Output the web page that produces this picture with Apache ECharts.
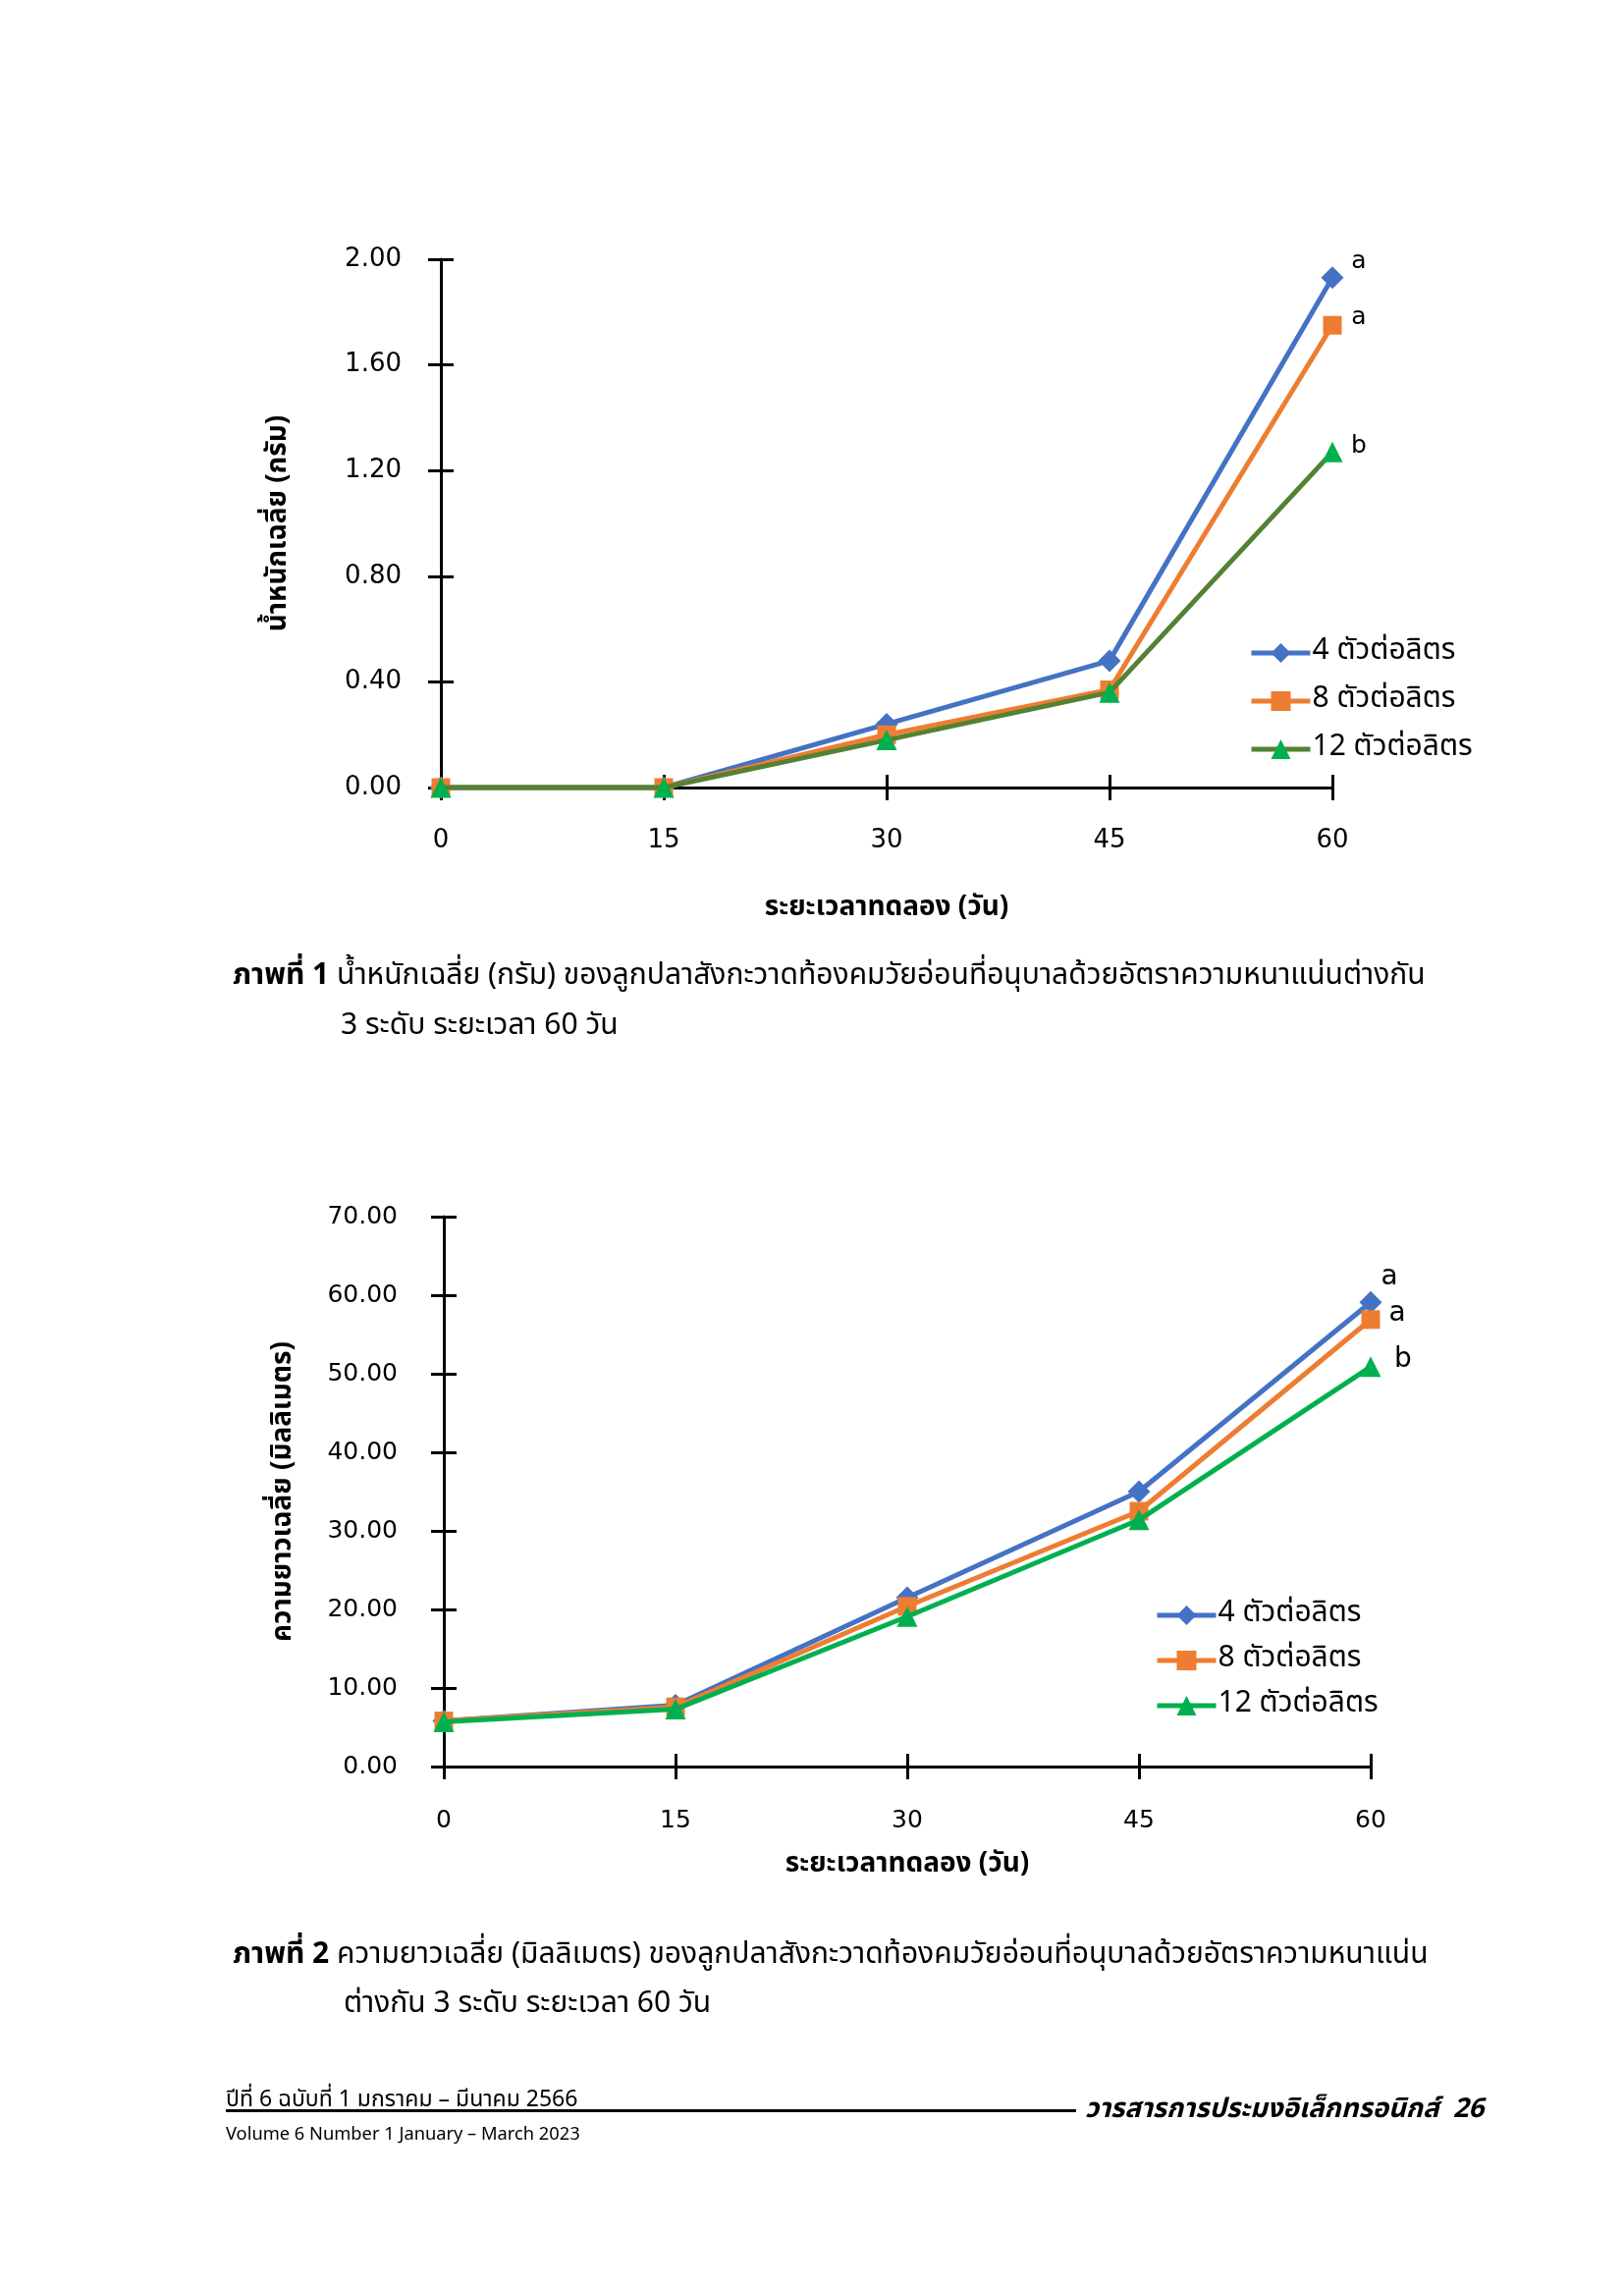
<!DOCTYPE html>
<html>
<head>
<meta charset="utf-8">
<script src="https://cdn.jsdelivr.net/npm/echarts@6/dist/echarts.min.js"></script>
<style>
  html, body { margin: 0; padding: 0; background: #fff; }
  #page { position: relative; width: 1654px; height: 2328px; overflow: hidden; }
  #chart { position: absolute; left: 0; top: 0; width: 1654px; height: 2328px; }
  .txt { position: absolute; white-space: nowrap; color: #000;
         font-family: 'Noto Sans Thai', 'Noto Sans Thai UI', 'Loma', 'Garuda', 'Sarabun', 'Tahoma', 'DejaVu Sans', sans-serif; }
  .cap { font-size: 30px; }
  .b { font-weight: bold; }
</style>
</head>
<body>
<div id="page">
  <div id="chart"></div>
  <div class="txt cap" style="left:237px; top:970px;"><span class="b">ภาพที่ 1</span> น้ำหนักเฉลี่ย (กรัม) ของลูกปลาสังกะวาดท้องคมวัยอ่อนที่อนุบาลด้วยอัตราความหนาแน่นต่างกัน</div>
  <div class="txt cap" style="left:347px; top:1021px;">3 ระดับ ระยะเวลา 60 วัน</div>
  <div class="txt cap" style="left:237px; top:1967px;"><span class="b">ภาพที่ 2</span> ความยาวเฉลี่ย (มิลลิเมตร) ของลูกปลาสังกะวาดท้องคมวัยอ่อนที่อนุบาลด้วยอัตราความหนาแน่น</div>
  <div class="txt cap" style="left:350px; top:2017px;">ต่างกัน 3 ระดับ ระยะเวลา 60 วัน</div>
  <div class="txt" style="left:230px; top:2121px; font-size:23px;">ปีที่ 6 ฉบับที่ 1 มกราคม – มีนาคม 2566</div>
  <div style="position:absolute; left:230px; top:2148px; width:866px; height:3px; background:#000;"></div>
  <div class="txt b" style="left:1105px; top:2127px; font-size:27.5px; font-style:italic;">วารสารการประมงอิเล็กทรอนิกส์&nbsp; 26</div>
  <div class="txt" style="left:230px; top:2160px; font-size:18.3px;">Volume 6 Number 1 January – March 2023</div>
</div>
<script>
// ---------------- data ----------------
var days = [0, 15, 30, 45, 60];
var seriesNames = ['4 ตัวต่อลิตร', '8 ตัวต่อลิตร', '12 ตัวต่อลิตร'];
var weight4  = [0.00, 0.00, 0.24, 0.48, 1.93];
var weight8  = [0.00, 0.00, 0.20, 0.37, 1.75];
var weight12 = [0.00, 0.00, 0.18, 0.36, 1.27];
var weightLetters = ['a', 'a', 'b'];
var length4  = [5.8, 7.8, 21.5, 35.0, 59.1];
var length8  = [5.8, 7.6, 20.4, 32.5, 56.9];
var length12 = [5.7, 7.3, 19.1, 31.4, 50.9];
var lengthLetters = ['a', 'a', 'b'];
var xTicks = [0, 15, 30, 45, 60];
var weightTicks = [0.00, 0.40, 0.80, 1.20, 1.60, 2.00];
var lengthTicks = [0, 10, 20, 30, 40, 50, 60, 70];
var xTitle = 'ระยะเวลาทดลอง (วัน)';
var weightTitle = 'น้ำหนักเฉลี่ย (กรัม)';
var lengthTitle = 'ความยาวเฉลี่ย (มิลลิเมตร)';

// ---------------- style ----------------
var THAI = "'Noto Sans Thai', 'Noto Sans Thai UI', Loma, Garuda, Sarabun, Tahoma, 'DejaVu Sans', sans-serif";
var NUM = "'DejaVu Sans', Tahoma, sans-serif";
var BLUE = '#4472C4', ORANGE = '#ED7D31', GREEN = '#00B050', OLIVE = '#548235';
var symbols = ['diamond', 'rect', 'triangle'];
var symbolSizes = [23, 19, 21];
var markerColors = [BLUE, ORANGE, GREEN];

function pairs(vals) { return days.map(function (d, i) { return [d, vals[i]]; }); }

function makeSeries(vals, idx, gridIdx, lineColor, letter, offset, letterSize) {
  var data = pairs(vals);
  var last = data.length - 1;
  data[last] = {
    value: data[last],
    label: {
      show: true, formatter: letter, position: 'inside', offset: offset,
      color: '#000', fontSize: letterSize, fontFamily: NUM
    }
  };
  return {
    type: 'line', name: seriesNames[idx],
    xAxisIndex: gridIdx * 2, yAxisIndex: gridIdx * 2,
    data: data,
    symbol: symbols[idx], symbolSize: symbolSizes[idx],
    showAllSymbol: true,
    lineStyle: { color: lineColor, width: 5 },
    itemStyle: { color: markerColors[idx] },
    label: { show: false },
    clip: false, z: 3 + idx, animation: false
  };
}

function valueAxisX(gridIdx, primary, nameGap, margin) {
  return {
    type: 'value', gridIndex: gridIdx, min: 0, max: 60, interval: 15,
    position: 'bottom',
    name: primary ? xTitle : '', nameLocation: 'middle', nameGap: nameGap,
    nameTextStyle: { fontFamily: THAI, fontSize: 28, fontWeight: 'bold', color: '#000' },
    axisLine: { show: primary, onZero: false, lineStyle: { color: '#000', width: 3 } },
    axisTick: { show: true, inside: !primary, length: 13, lineStyle: { color: '#000', width: 3 } },
    axisLabel: { show: primary, margin: margin, fontFamily: NUM, fontSize: gridIdx === 0 ? 26 : 25, color: '#000',
                 formatter: function (v) { return xTicks.indexOf(v) >= 0 ? String(v) : ''; } },
    splitLine: { show: false }
  };
}

function valueAxisY(gridIdx, primary, max, interval, ticks, title, nameGap, margin, fontSize) {
  return {
    type: 'value', gridIndex: gridIdx, min: 0, max: max, interval: interval,
    position: 'left',
    name: primary ? title : '', nameLocation: 'middle', nameGap: nameGap, nameRotate: 90,
    nameTextStyle: { fontFamily: THAI, fontSize: 28, fontWeight: 'bold', color: '#000' },
    axisLine: { show: primary, onZero: false, lineStyle: { color: '#000', width: 3 } },
    axisTick: { show: true, inside: !primary, length: 13, lineStyle: { color: '#000', width: 3 } },
    axisLabel: { show: primary, margin: margin, fontFamily: NUM, fontSize: fontSize, color: '#000',
                 formatter: function (v) { return ticks.indexOf(v) >= 0 ? v.toFixed(2) : ''; } },
    splitLine: { show: false }
  };
}

function legendFor(left, top, itemGap, greenLine) {
  var lineColors = [BLUE, ORANGE, greenLine];
  return {
    orient: 'vertical', left: left, top: top, itemGap: itemGap,
    itemWidth: 60, itemHeight: 25, selectedMode: false,
    textStyle: { fontFamily: THAI, fontSize: 30, color: '#000', padding: [0, 0, 0, -3] },
    data: seriesNames.map(function (n, i) {
      return { name: n, itemStyle: { color: markerColors[i] }, lineStyle: { color: lineColors[i], width: 5 } };
    })
  };
}

var chart = echarts.init(document.getElementById('chart'), null, { renderer: 'canvas' });
chart.setOption({
  animation: false,
  backgroundColor: '#fff',
  grid: [
    { left: 449, top: 264, width: 908, height: 538 },
    { left: 452, top: 1239, width: 944, height: 560 }
  ],
  xAxis: [
    valueAxisX(0, true, 110, 41), valueAxisX(0, false, 0, 41),
    valueAxisX(1, true, 87, 43), valueAxisX(1, false, 0, 43)
  ],
  yAxis: [
    valueAxisY(0, true, 2.0, 0.4, weightTicks, weightTitle, 150, 40, 26),
    valueAxisY(0, false, 2.0, 0.4, weightTicks, weightTitle, 150, 40, 26),
    valueAxisY(1, true, 70, 10, lengthTicks, lengthTitle, 148, 47, 25),
    valueAxisY(1, false, 70, 10, lengthTicks, lengthTitle, 148, 47, 25)
  ],
  legend: [
    legendFor(1267, 645, 19, OLIVE),
    legendFor(1171, 1625, 16, GREEN)
  ],
  series: [
    makeSeries(weight4, 0, 0, BLUE, weightLetters[0], [27, -16], 25),
    makeSeries(weight8, 1, 0, ORANGE, weightLetters[1], [27, -8], 25),
    makeSeries(weight12, 2, 0, OLIVE, weightLetters[2], [27, -6], 25),
    makeSeries(length4, 0, 1, BLUE, lengthLetters[0], [19, -25], 28),
    makeSeries(length8, 1, 1, ORANGE, lengthLetters[1], [27, -6], 28),
    makeSeries(length12, 2, 1, GREEN, lengthLetters[2], [33, -7], 28)
  ]
});
</script>
</body>
</html>
